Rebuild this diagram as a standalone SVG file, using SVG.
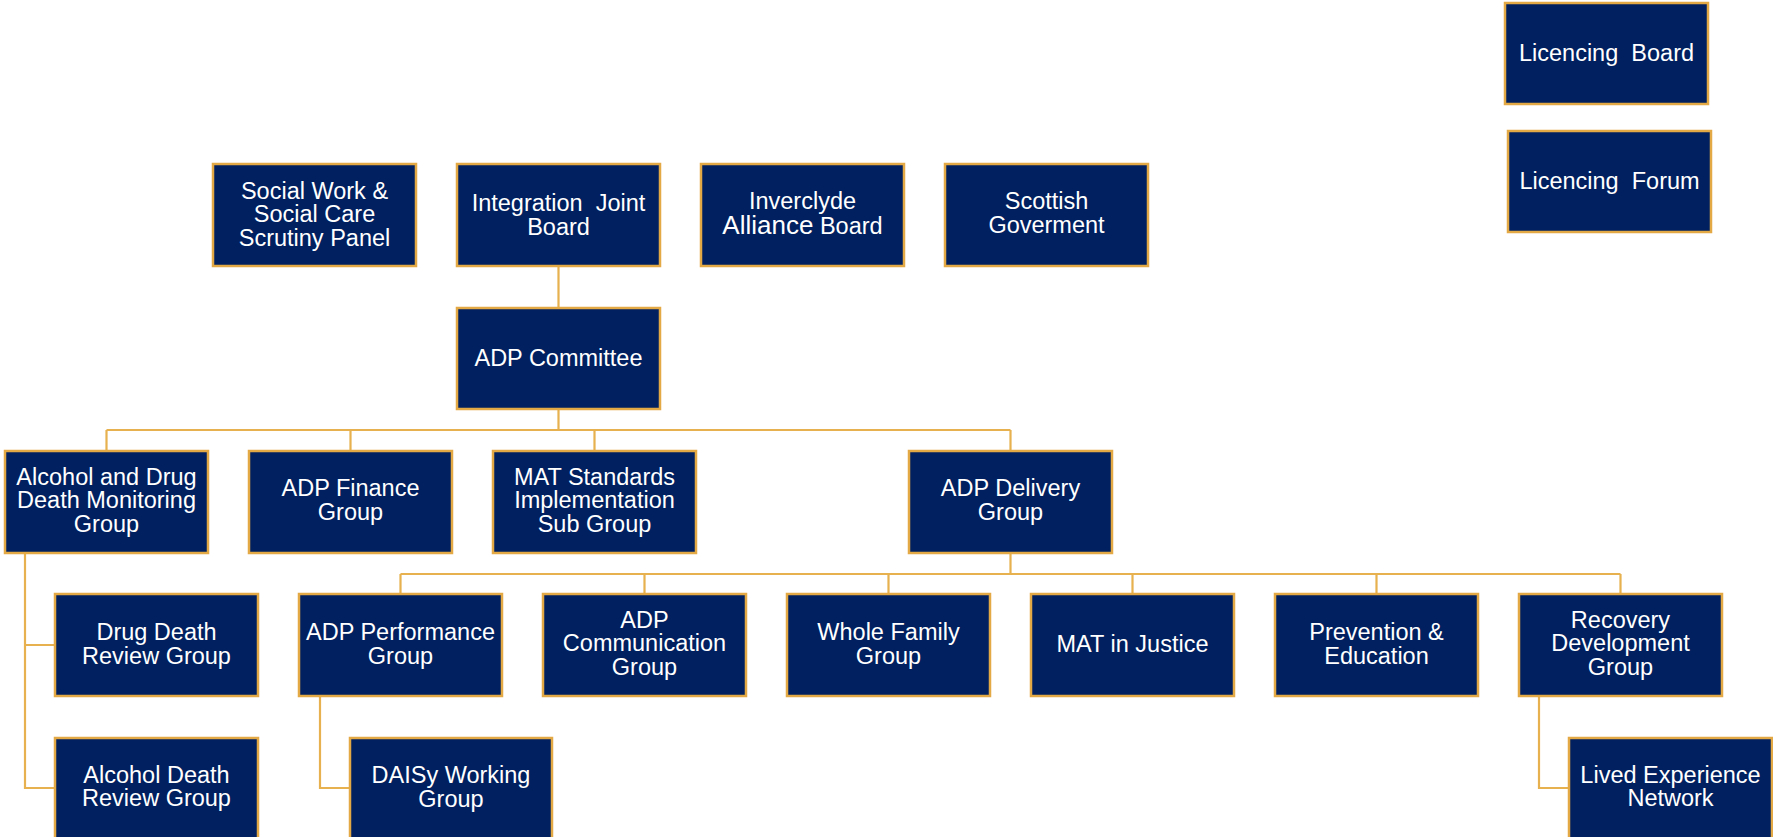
<svg xmlns="http://www.w3.org/2000/svg" width="1773" height="837" viewBox="0 0 1773 837">
<style>
.box{fill:#002060;stroke:#E3A944;stroke-width:2.5}
.t{font-family:"Liberation Sans",Arial,sans-serif;font-size:23.5px;fill:#FFFFFF;text-anchor:middle}
.c{fill:none;stroke:#E8B14F;stroke-width:2.2}
</style>
<rect width="1773" height="837" fill="#FFFFFF"/>
<g id="connectors">
<path class="c" d="M558.5 266 V308 M558.5 409 V430 M106.5 430 H1010.5 M106.5 430 V451 M350.5 430 V451 M594.5 430 V451 M1010.5 430 V451"/>
<path class="c" d="M1010.5 553 V574 M400.5 574 H1620.5 M400.5 574 V594 M644.5 574 V594 M888.5 574 V594 M1132.5 574 V594 M1376.5 574 V594 M1620.5 574 V594"/>
<path class="c" d="M25 553 V788 H55 M25 645 H55 M320 696 V788 H350 M1539 696 V788 H1569"/>
</g>
<g id="social-work"><rect class="box" x="213" y="164" width="203" height="102"/><text class="t" x="314.5" y="198.5">Social Work &amp;</text><text class="t" x="314.5" y="222">Social Care</text><text class="t" x="314.5" y="245.5">Scrutiny Panel</text></g>
<g id="ijb"><rect class="box" x="457" y="164" width="203" height="102"/><text class="t" x="558.5" y="211" xml:space="preserve">Integration  Joint</text><text class="t" x="558.5" y="234.5">Board</text></g>
<g id="inverclyde"><rect class="box" x="701" y="164" width="203" height="102"/><text class="t" x="802.5" y="209">Inverclyde</text><text class="t" x="802.5" y="234"><tspan font-size="26">Alliance</tspan> Board</text></g>
<g id="scottish"><rect class="box" x="945" y="164" width="203" height="102"/><text class="t" x="1046.5" y="209">Scottish</text><text class="t" x="1046.5" y="232.5">Goverment</text></g>
<g id="licencing-board"><rect class="box" x="1505" y="3" width="203" height="101"/><text class="t" x="1606.5" y="61" xml:space="preserve">Licencing  Board</text></g>
<g id="licencing-forum"><rect class="box" x="1508" y="131" width="203" height="101"/><text class="t" x="1609.5" y="189" xml:space="preserve">Licencing  Forum</text></g>
<g id="adp-committee"><rect class="box" x="457" y="308" width="203" height="101"/><text class="t" x="558.5" y="366">ADP Committee</text></g>
<g id="monitoring"><rect class="box" x="5" y="451" width="203" height="102"/><text class="t" x="106.5" y="484.5">Alcohol and Drug</text><text class="t" x="106.5" y="508">Death Monitoring</text><text class="t" x="106.5" y="531.5">Group</text></g>
<g id="finance"><rect class="box" x="249" y="451" width="203" height="102"/><text class="t" x="350.5" y="496">ADP Finance</text><text class="t" x="350.5" y="519.5">Group</text></g>
<g id="mat-standards"><rect class="box" x="493" y="451" width="203" height="102"/><text class="t" x="594.5" y="484.5">MAT Standards</text><text class="t" x="594.5" y="508">Implementation</text><text class="t" x="594.5" y="531.5">Sub Group</text></g>
<g id="delivery"><rect class="box" x="909" y="451" width="203" height="102"/><text class="t" x="1010.5" y="496">ADP Delivery</text><text class="t" x="1010.5" y="519.5">Group</text></g>
<g id="drug-death"><rect class="box" x="55" y="594" width="203" height="102"/><text class="t" x="156.5" y="640">Drug Death</text><text class="t" x="156.5" y="663.5">Review Group</text></g>
<g id="performance"><rect class="box" x="299" y="594" width="203" height="102"/><text class="t" x="400.5" y="640">ADP Performance</text><text class="t" x="400.5" y="663.5">Group</text></g>
<g id="communication"><rect class="box" x="543" y="594" width="203" height="102"/><text class="t" x="644.5" y="627.5">ADP</text><text class="t" x="644.5" y="651">Communication</text><text class="t" x="644.5" y="674.5">Group</text></g>
<g id="whole-family"><rect class="box" x="787" y="594" width="203" height="102"/><text class="t" x="888.5" y="640">Whole Family</text><text class="t" x="888.5" y="663.5">Group</text></g>
<g id="mat-justice"><rect class="box" x="1031" y="594" width="203" height="102"/><text class="t" x="1132.5" y="652">MAT in Justice</text></g>
<g id="prevention"><rect class="box" x="1275" y="594" width="203" height="102"/><text class="t" x="1376.5" y="640">Prevention &amp;</text><text class="t" x="1376.5" y="663.5">Education</text></g>
<g id="recovery"><rect class="box" x="1519" y="594" width="203" height="102"/><text class="t" x="1620.5" y="627.5">Recovery</text><text class="t" x="1620.5" y="651">Development</text><text class="t" x="1620.5" y="674.5">Group</text></g>
<g id="alcohol-death"><rect class="box" x="55" y="738" width="203" height="102"/><text class="t" x="156.5" y="782.5">Alcohol Death</text><text class="t" x="156.5" y="806">Review Group</text></g>
<g id="daisy"><rect class="box" x="350" y="738" width="202" height="102"/><text class="t" x="451" y="783">DAISy Working</text><text class="t" x="451" y="806.5">Group</text></g>
<g id="lived-experience"><rect class="box" x="1569" y="738" width="203" height="102"/><text class="t" x="1670.5" y="782.5">Lived Experience</text><text class="t" x="1670.5" y="806">Network</text></g>
</svg>
